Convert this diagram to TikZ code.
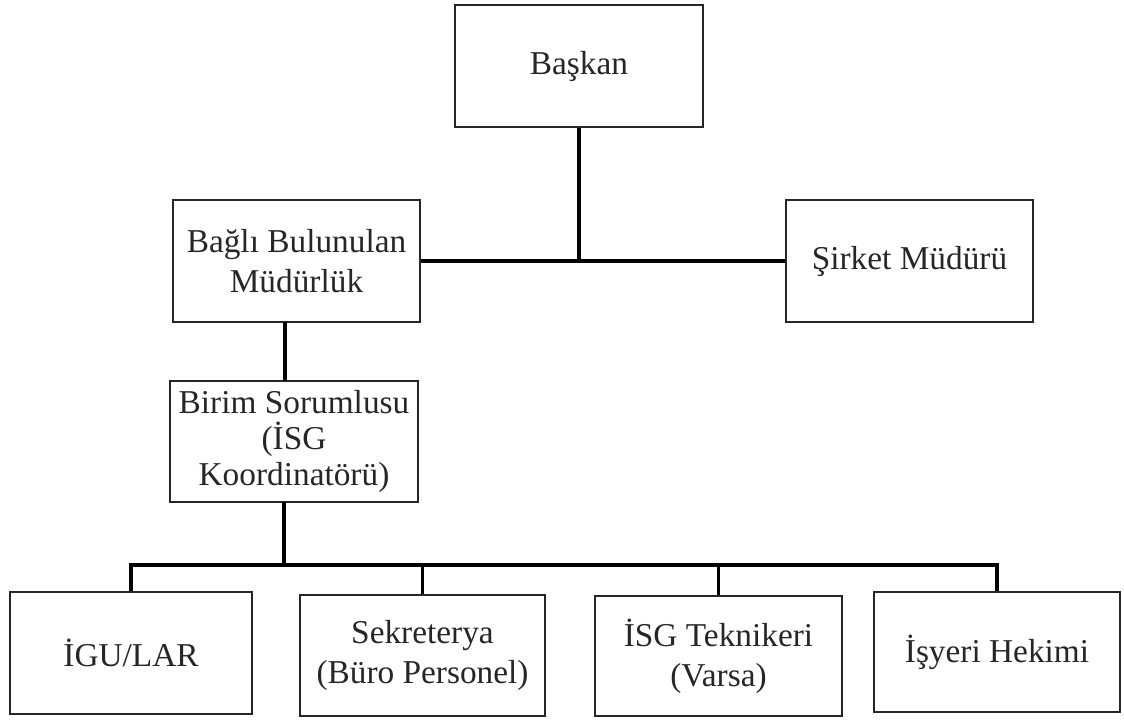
\documentclass[tikz,border=0pt]{standalone}
\usepackage{fontspec}
\setmainfont{Liberation Serif}
\begin{document}
\begin{tikzpicture}[x=0.75pt,y=-0.75pt,
  box/.style={draw=black!85,line width=1.4pt,inner sep=0pt,align=center,
    font=\fontsize{25}{30}\selectfont,text=black!85},
  thickline/.style={line width=3.6pt},
  midline/.style={line width=2.4pt}]
\useasboundingbox (0,0) rectangle (1124,720);
\node[box,minimum width=186pt,minimum height=91.5pt] (bask) at (579,66) {Başkan};
\node[box,minimum width=185pt,minimum height=91.5pt] (bagli) at (296.5,261) {Bağlı Bulunulan\\Müdürlük};
\node[box,minimum width=185pt,minimum height=91.5pt] (sirket) at (909.5,261) {Şirket Müdürü};
\node[box,minimum width=186pt,minimum height=91pt,font=\fontsize{25}{27}\selectfont] (birim) at (294,441.5) {Birim Sorumlusu\\(İSG\\Koordinatörü)};
\node[box,minimum width=181.5pt,minimum height=91.5pt] (igu) at (131,653) {İGU/LAR};
\node[box,minimum width=184pt,minimum height=91pt] (sek) at (422.5,655.5) {Sekreterya\\(Büro Personel)};
\node[box,minimum width=185pt,minimum height=90pt] (tek) at (718.5,656) {İSG Teknikeri\\(Varsa)};
\node[box,minimum width=184.5pt,minimum height=90pt] (isy) at (997,652) {İşyeri Hekimi};
\coordinate (busy) at (0,565);
\coordinate (bagliS) at (285,322);
\coordinate (birimN) at (285,381);
\coordinate (birimS) at (284,502);
\draw[thickline] (bask.south) -- (bask.south |- bagli.east);
\draw[midline] (bagli.east) -- (sirket.west);
\draw[thickline] (bagliS) -- (birimN);
\draw[thickline] (birimS) -- (birimS |- busy);
\draw[midline] (igu.north) |- (busy -| isy.north) -- (isy.north);
\draw[midline] (sek.north) -- (sek.north |- busy);
\draw[midline] (tek.north) -- (tek.north |- busy);
\end{tikzpicture}
\end{document}
